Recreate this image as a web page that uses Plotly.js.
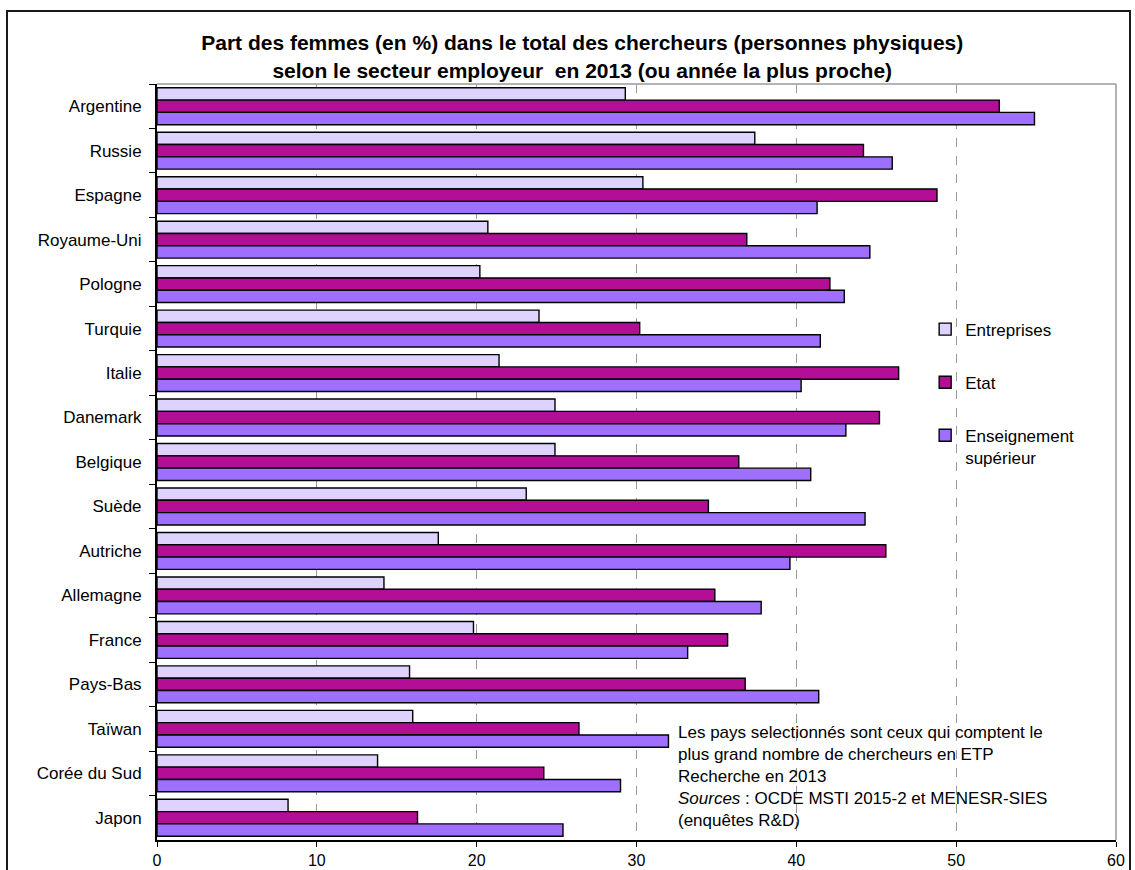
<!DOCTYPE html>
<html>
<head>
<meta charset="utf-8">
<script src="https://cdn.plot.ly/plotly-3.0.1.min.js"></script>
<style>
  html, body { margin: 0; padding: 0; background: #fff; }
  #wrap { position: relative; width: 1135px; height: 870px; overflow: hidden; }
  #chart { position: absolute; left: 0; top: 0; width: 1135px; height: 870px; }
  #frame { position: absolute; left: 6px; top: 10px; width: 1121px; height: 900px;
           border: 2px solid #1a1a1a; pointer-events: none; }
</style>
</head>
<body>
<div id="wrap">
  <div id="chart"></div>
  <div id="frame"></div>
</div>
<script>
// Data (in %)
const countries = ["Argentine", "Russie", "Espagne", "Royaume-Uni", "Pologne", "Turquie", "Italie",
  "Danemark", "Belgique", "Suède", "Autriche", "Allemagne", "France", "Pays-Bas", "Taïwan",
  "Corée du Sud", "Japon"];
const entreprises = [29.3, 37.4, 30.4, 20.7, 20.2, 23.9, 21.4, 24.9, 24.9, 23.1, 17.6, 14.2, 19.8, 15.8, 16.0, 13.8, 8.2];
const etat =        [52.7, 44.2, 48.8, 36.9, 42.1, 30.2, 46.4, 45.2, 36.4, 34.5, 45.6, 34.9, 35.7, 36.8, 26.4, 24.2, 16.3];
const enseignement =[54.9, 46.0, 41.3, 44.6, 43.0, 41.5, 40.3, 43.1, 40.9, 44.3, 39.6, 37.8, 33.2, 41.4, 32.0, 29.0, 25.4];
const seriesNames = ["Entreprises", "Etat", "Enseignement<br>supérieur"];
const xTicks = [0, 10, 20, 30, 40, 50, 60];

const colors = ["#DED3FF", "#B40E96", "#9F70FF"];
const FONT = "Liberation Sans, Arial, sans-serif";

const values = [entreprises, etat, enseignement];
const traces = values.map((v, i) => ({
  type: "bar",
  orientation: "h",
  name: seriesNames[i],
  legendgroup: "g" + i,
  x: v,
  y: countries,
  marker: { color: colors[i], line: { color: "#000", width: 1.4 } },
  hoverinfo: "x+y+name"
}));

const layout = {
  width: 1135,
  height: 870,
  margin: { l: 157, r: 19, t: 84, b: 30 },
  paper_bgcolor: "#fff",
  plot_bgcolor: "#fff",
  font: { family: FONT, color: "#000", size: 16 },
  title: {
    text: "<b>Part des femmes (en %) dans le total des chercheurs (personnes physiques)<br>selon le secteur employeur  en 2013 (ou année la plus proche)</b>",
    font: { family: FONT, size: 21, color: "#000" },
    x: 0.513, xanchor: "center", xref: "container",
    y: 0.942, yanchor: "top", yref: "container"
  },
  barmode: "group",
  bargap: 0.17,
  bargroupgap: 0,
  xaxis: {
    range: [0, 60],
    tickvals: xTicks,
    ticktext: xTicks.map(String),
    showgrid: true,
    gridcolor: "#9a9a9a",
    griddash: "dash",
    gridwidth: 1,
    zeroline: false,
    showline: true,
    linecolor: "#000",
    linewidth: 2,
    ticks: "outside",
    ticklen: 5,
    tickcolor: "#000",
    tickfont: { family: FONT, size: 16, color: "#000" },
    fixedrange: true
  },
  yaxis: {
    type: "category",
    categoryorder: "array",
    categoryarray: countries,
    autorange: "reversed",
    showgrid: false,
    zeroline: false,
    showline: true,
    linecolor: "#000",
    linewidth: 2,
    ticks: "outside",
    tickson: "boundaries",
    ticklen: 6,
    tickcolor: "#000",
    ticklabelstandoff: 10,
    tickfont: { family: FONT, size: 17, color: "#000" },
    fixedrange: true
  },
  showlegend: true,
  legend: {
    x: 0.801, xanchor: "left",
    y: 0.699, yanchor: "top",
    font: { family: FONT, size: 17, color: "#000" },
    tracegroupgap: 28,
    valign: "top",
    bgcolor: "rgba(0,0,0,0)",
    itemwidth: 30
  },
  shapes: [
    { type: "line", xref: "paper", yref: "paper", x0: 0, x1: 1, y0: 1, y1: 1,
      line: { color: "#9a9a9a", width: 1.5 } },
    { type: "line", xref: "paper", yref: "paper", x0: 1, x1: 1, y0: 0, y1: 1,
      line: { color: "#9a9a9a", width: 1.5 } }
  ],
  annotations: [{
    xref: "paper", yref: "paper",
    x: 0.541, y: 0.157, xanchor: "left", yanchor: "top",
    align: "left",
    showarrow: false,
    font: { family: FONT, size: 17, color: "#000" },
    text: "Les pays selectionnés sont ceux qui comptent le<br>plus grand nombre de chercheurs en ETP<br>Recherche en 2013<br><i>Sources</i> : OCDE MSTI 2015-2 et MENESR-SIES<br>(enquêtes R&D)"
  }]
};

Plotly.newPlot("chart", traces, layout, { displayModeBar: false, staticPlot: true });
</script>
</body>
</html>
